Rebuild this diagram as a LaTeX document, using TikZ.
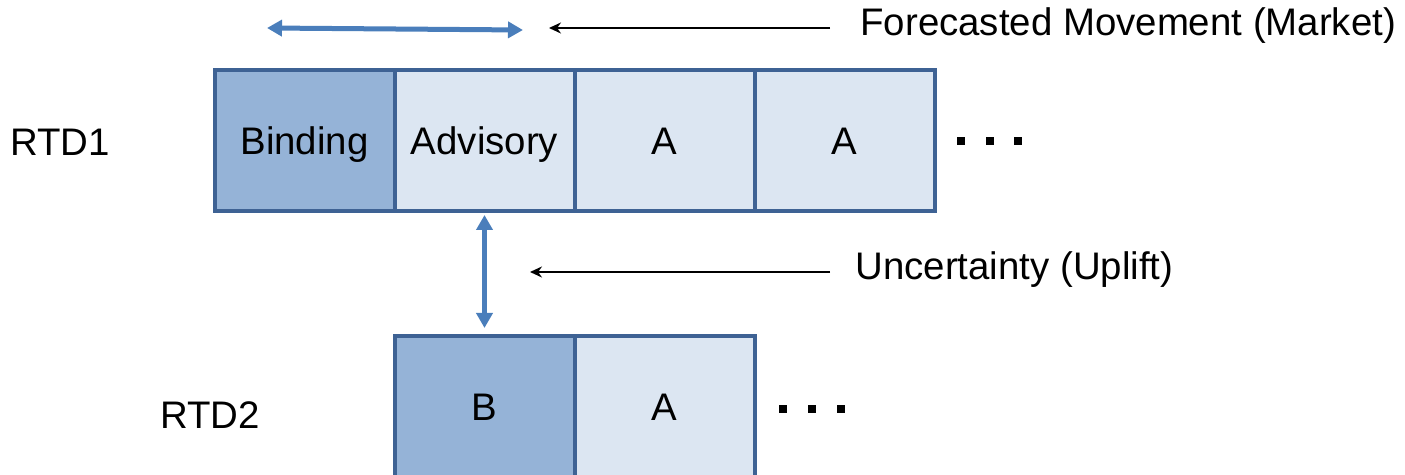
\documentclass[tikz,border=0pt]{standalone}
\usepackage{fontspec}
\setmainfont{Liberation Sans}
\usetikzlibrary{arrows.meta}
\definecolor{edgeblue}{HTML}{3E6294}
\definecolor{darkfill}{HTML}{95B3D7}
\definecolor{lightfill}{HTML}{DCE6F2}
\definecolor{arrowblue}{HTML}{4A7EBB}
\tikzset{
  cell/.style={draw=edgeblue, line width=2pt, minimum width=90pt, minimum height=70.5pt,
    inner sep=0pt, text height=13.8pt, text depth=0pt, font=\fontsize{19.2pt}{23pt}\selectfont},
  darkcell/.style={cell, fill=darkfill},
  lightcell/.style={cell, fill=lightfill},
  lbl/.style={inner sep=0pt, anchor=west, font=\fontsize{19.2pt}{23pt}\selectfont},
  bluearrow/.style={draw=arrowblue, line width=2.5pt,
    {Triangle[length=7.5pt,width=8pt]}-{Triangle[length=7.5pt,width=8pt]}},
  blackarrow/.style={draw=black, line width=1pt, -{Stealth[length=6pt,width=5.5pt]}},
  dot/.style={fill=black}
}
\begin{document}
\begin{tikzpicture}[x=0.5pt,y=-0.5pt]
\useasboundingbox (0,0) rectangle (1405,475);
% RTD1 row
\node[darkcell]  (bind) at (304.5,140.5) {Binding};
\node[lightcell] (adv)  at (484.5,140.5) {Advisory};
\node[lightcell] (ra)   at (664.5,140.5) {A};
\node[lightcell] (rb)   at (844.5,140.5) {A};
% RTD2 row
\node[darkcell]  (bb)   at (484.5,406.5) {B};
\node[lightcell] (ba)   at (664.5,406.5) {A};
% labels
\node[lbl] (rtd1) at (10,142) {RTD1};
\node[lbl] (rtd2) at (160,415) {RTD2};
\node[lbl] (fm) at (860,26) {Forecasted Movement (Market)};
\node[lbl] (un) at (855,270) {Uncertainty (Uplift)};
% dots
\foreach \x in {961,990,1018}{\fill[dot] (\x-4,137) rectangle (\x+4,145);}
\foreach \x in {783,812,841}{\fill[dot] (\x-4,405) rectangle (\x+4,413);}
% blue arrows
\coordinate (mvl) at (267,28);
\coordinate (mvr) at (523,30);
\draw[bluearrow] (mvl) -- (mvr);
\draw[bluearrow, shorten <=1pt, shorten >=3pt] (adv.south) -- (bb.north);
% black arrows
\coordinate (fmtip) at (549,28);
\coordinate (untip) at (530,272);
\draw[blackarrow] ([xshift=-15pt]fm.west |- fmtip) -- (fmtip);
\draw[blackarrow] ([xshift=-12.5pt]un.west |- untip) -- (untip);
\end{tikzpicture}
\end{document}
